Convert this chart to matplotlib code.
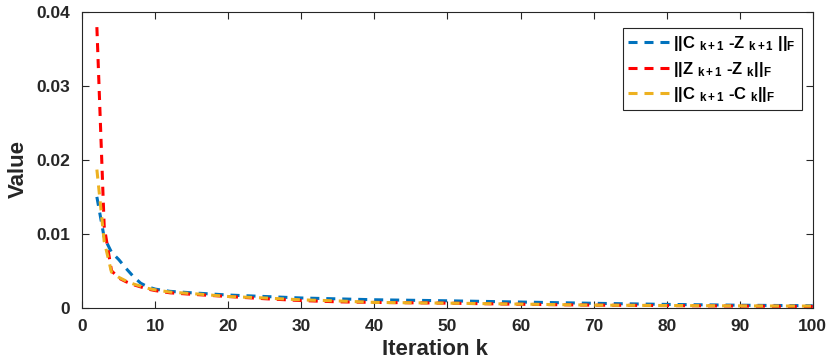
import matplotlib
matplotlib.use('Agg')
import matplotlib.pyplot as plt

plt.rcParams['font.family'] = ['Liberation Sans', 'DejaVu Sans']
plt.rcParams['font.weight'] = 'bold'
plt.rcParams['mathtext.fontset'] = 'custom'
plt.rcParams['mathtext.rm'] = 'Liberation Sans:bold'
plt.rcParams['mathtext.it'] = 'Liberation Sans:bold'
plt.rcParams['mathtext.bf'] = 'Liberation Sans:bold'
plt.rcParams['lines.scale_dashes'] = False

k = [2, 3, 4, 5, 6, 7, 8, 9, 10, 12, 15, 20, 25, 30, 35, 40, 50, 60, 70, 80, 90, 100]

# ||C_{k+1} - Z_{k+1}||_F
ck_zk = [0.0150, 0.0095, 0.0075, 0.0065, 0.0053, 0.0042, 0.0033, 0.0028, 0.0025,
         0.0022, 0.0020, 0.0017, 0.0015, 0.0013, 0.00118, 0.00106, 0.00092,
         0.00075, 0.00058, 0.00043, 0.00032, 0.00025]
# ||Z_{k+1} - Z_k||_F
zk_zk = [0.0380, 0.0110, 0.0050, 0.0040, 0.0035, 0.0031, 0.0028, 0.0025, 0.0023,
         0.0020, 0.0018, 0.0015, 0.0012, 0.00095, 0.00078, 0.0007, 0.0006,
         0.00045, 0.00033, 0.00027, 0.0002, 0.00015]
# ||C_{k+1} - C_k||_F
ck_ck = [0.0187, 0.0090, 0.0048, 0.0041, 0.0036, 0.0032, 0.0029, 0.0026, 0.0024,
         0.0021, 0.0019, 0.0015, 0.0013, 0.00105, 0.0009, 0.0007, 0.0006,
         0.00047, 0.00033, 0.00028, 0.00023, 0.0002]

labels = [r'||C $_{k+1}$ -Z $_{k+1}$ ||$_F$',
          r'||Z $_{k+1}$ -Z $_k$||$_F$',
          r'||C $_{k+1}$ -C $_k$||$_F$']
colors = ['#0072BD', '#FF0000', '#EDB120']

fig = plt.figure(figsize=(8.31, 3.64), dpi=100)
ax = fig.add_axes([0.099, 0.155, 0.879, 0.811])

for y, lab, c in zip([ck_zk, zk_zk, ck_ck], labels, colors):
    ax.plot(k, y, color=c, lw=2.2, dashes=(6.5, 5), label=lab)

ax.set_xlim(0, 100)
ax.set_ylim(0, 0.04)
ax.set_xticks(range(0, 101, 10))
ax.set_yticks([0, 0.01, 0.02, 0.03, 0.04])
ax.set_yticklabels(['0', '0.01', '0.02', '0.03', '0.04'])
ax.tick_params(direction='in', top=True, right=True, labelsize=12.5,
               colors='#262626', length=5, width=0.8)
ax.tick_params(axis='x', pad=8)
ax.tick_params(axis='y', pad=9)
for s in ax.spines.values():
    s.set_color('#262626')
    s.set_linewidth(0.8)

ax.set_xlabel('Iteration k', fontsize=16, fontweight='bold', color='#262626')
ax.set_ylabel('Value', fontsize=16, fontweight='bold', color='#262626')
ax.xaxis.set_label_coords(0.483, -0.107)
ax.yaxis.set_label_coords(-0.0725, 0.47)

leg = ax.legend(loc='upper right', bbox_to_anchor=(0.985, 0.947), fontsize=12,
                handlelength=2.5, handletextpad=0.2, borderaxespad=0,
                labelspacing=0.4, fancybox=False, framealpha=1,
                edgecolor='#262626', borderpad=0.35)
leg.get_frame().set_linewidth(0.8)

fig.savefig('out.png', dpi=100)
